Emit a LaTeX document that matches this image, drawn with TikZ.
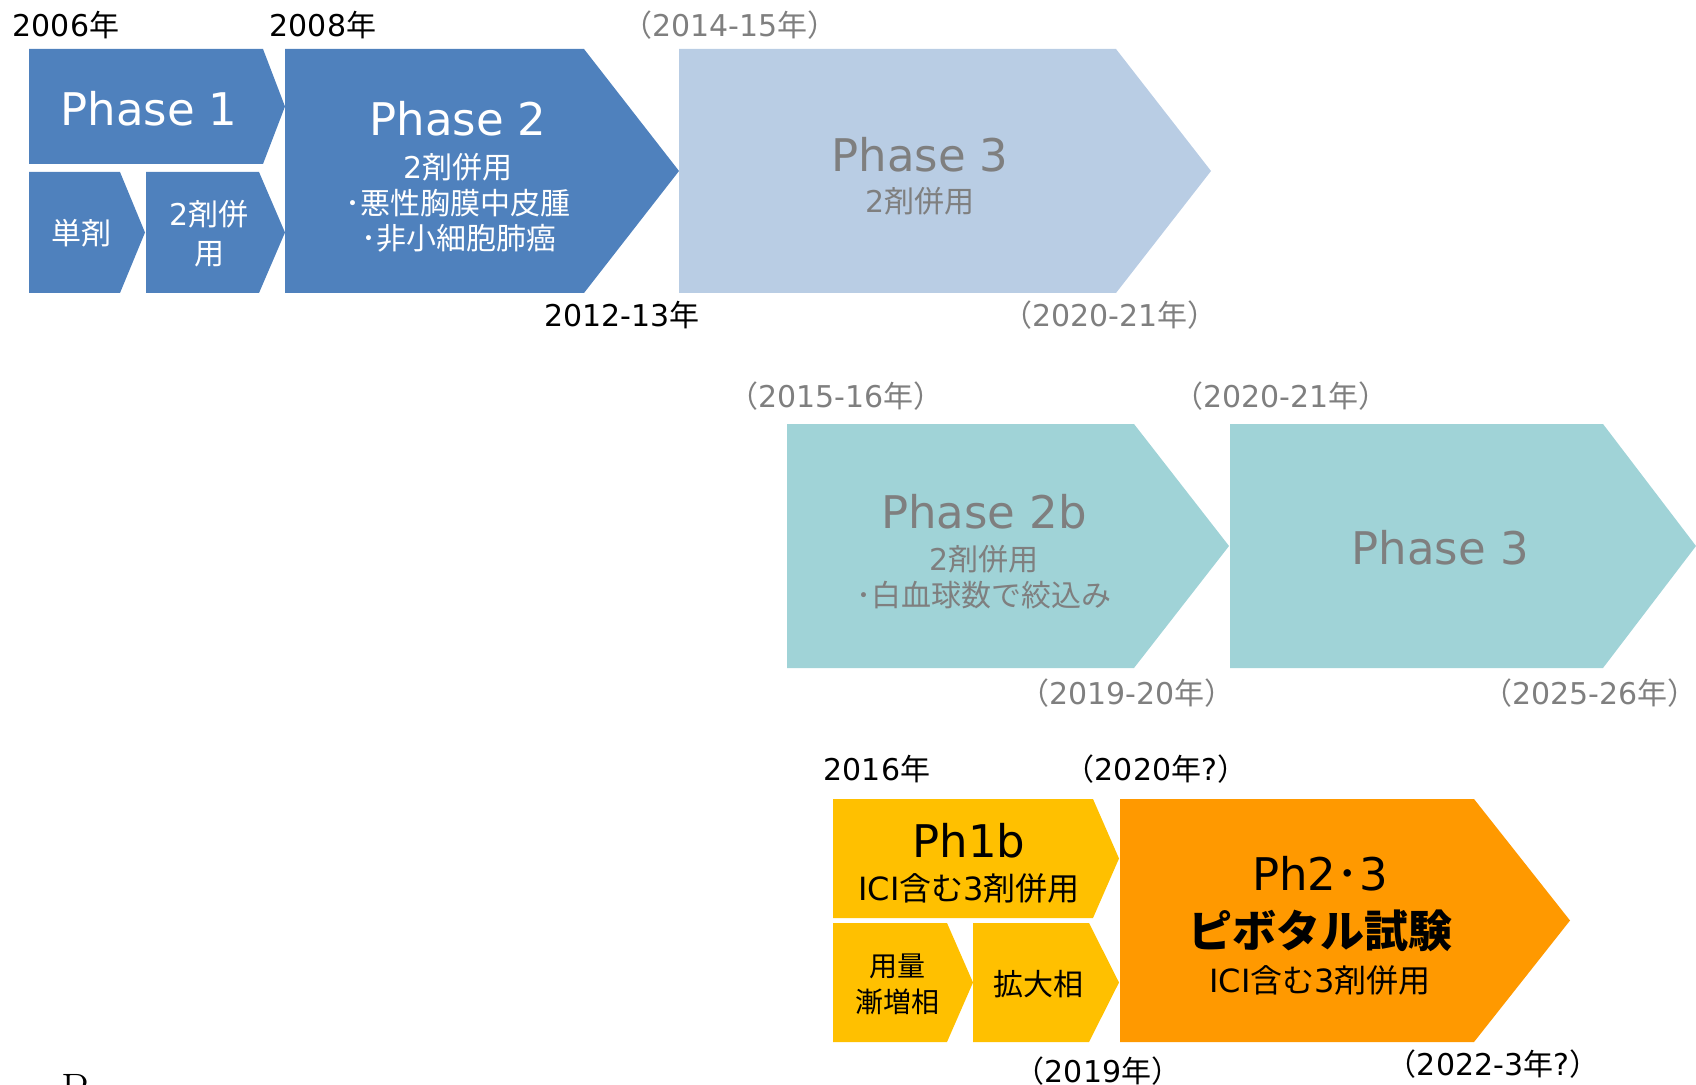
\documentclass[tikz,border=0pt]{standalone}
\usepackage{fontspec}
\setmainfont{DejaVu Sans}
\newfontfamily\jp{Noto Sans CJK JP}
\newfontfamily\lmr{Latin Modern Roman}
\newcommand\J[1]{{\jp #1}}
\newcommand\fsz[1]{\fontsize{#1}{#1}\selectfont}
\definecolor{blueA}{RGB}{79,129,189}
\definecolor{blueB}{RGB}{185,205,228}
\definecolor{tealC}{RGB}{160,211,215}
\definecolor{yelD}{RGB}{255,192,0}
\definecolor{oraE}{RGB}{255,153,0}
\definecolor{grayT}{RGB}{127,127,127}
\newcommand\chevron[6]{%
  \path[fill=#6] (#1,#2) -- (#3,#2) -- (#4,{(#2+#5)/2}) -- (#3,#5) -- (#1,#5) -- cycle;}
\tikzset{
  tx/.style={inner sep=0pt, anchor=center},
  yr/.style={tx, font=\fsz{15}, text=black},
  gyr/.style={tx, font=\fsz{15}, text=grayT},
  big/.style={tx, font=\fsz{22.5}},
  sub/.style={tx, font=\fsz{15}},
}
\begin{document}
\begin{tikzpicture}[x=0.5pt,y=-0.5pt]
\useasboundingbox (0,0) rectangle (1696,1085);
% ---- row 1 shapes
\chevron{29}{49}{263}{285}{164}{blueA}
\chevron{29}{172}{120}{145}{293}{blueA}
\chevron{146}{172}{259}{285}{293}{blueA}
\chevron{285}{49}{584}{679}{293}{blueA}
\chevron{679}{49}{1116}{1211}{293}{blueB}
% ---- row 2 shapes
\chevron{787}{424}{1134}{1229}{668}{tealC}
\chevron{1230}{424}{1603}{1696}{668}{tealC}
% ---- row 3 shapes
\chevron{833}{799}{1093}{1119}{918}{yelD}
\chevron{833}{923}{947}{973}{1042}{yelD}
\chevron{973}{923}{1089}{1119}{1042}{yelD}
\chevron{1120}{799}{1474}{1570}{1042}{oraE}
% ---- row 1 texts
\node[yr] (y2006) at (66,25) {2006\J{年}};
\node[yr] (y2008) at (323,25) {2008\J{年}};
\node[gyr] (y2014) at (730,25) {\J{（}2014-15\J{年）}};
\node[big, text=white] (p1) at (149,109) {Phase 1};
\node[sub, text=white] (tan) at (81,233) {\J{単剤}};
\node[sub, text=white] (niz1) at (209,214) {2\J{剤併}};
\node[sub, text=white] (niz2) at (209,254) {\J{用}};
\node[big, text=white] (p2) at (458,119) {Phase 2};
\node[sub, text=white] (p2a) at (458,167) {2\J{剤併用}};
\node[sub, text=white] (p2b) at (458,203) {\J{･悪性胸膜中皮腫}};
\node[sub, text=white] (p2c) at (459,238) {\J{･非小細胞肺癌}};
\node[big, text=grayT] (p3) at (920,155) {Phase 3};
\node[sub, text=grayT] (p3a) at (920,201) {2\J{剤併用}};
\node[yr] (y2012) at (622,315) {2012-13\J{年}};
\node[gyr] (y2020a) at (1110,315) {\J{（}2020-21\J{年）}};
% ---- row 2 texts
\node[gyr] (y2015) at (836,396) {\J{（}2015-16\J{年）}};
\node[gyr] (y2020b) at (1281,396) {\J{（}2020-21\J{年）}};
\node[big, text=grayT] (p2bb) at (984,512) {Phase 2b};
\node[sub, text=grayT] (p2ba) at (984,559) {2\J{剤併用}};
\node[sub, text=grayT] (p2bc) at (984,595) {\J{･白血球数で絞込み}};
\node[big, text=grayT] (p3t) at (1440,548) {Phase 3};
\node[gyr] (y2019a) at (1127,693) {\J{（}2019-20\J{年）}};
\node[gyr] (y2025) at (1590,693) {\J{（}2025-26\J{年）}};
% ---- row 3 texts
\node[yr] (y2016) at (877,769) {2016\J{年}};
\node[yr] (y2020c) at (1156,769) {\J{（}2020\J{年}?\J{）}};
\node[big] (ph1b) at (969,841) {Ph1b};
\node[tx, font=\fsz{16}] (ph1ba) at (969,888) {ICI\J{含む}3\J{剤併用}};
\node[tx, font=\fsz{14}] (yo1) at (897,966) {\J{用量}};
\node[tx, font=\fsz{14}] (yo2) at (897,1002) {\J{漸増相}};
\node[tx, font=\fsz{15}] (kak) at (1038,984) {\J{拡大相}};
\node[big] (ph23) at (1320,874) {Ph2\J{･}3};
\node[tx, font=\fsz{22}] (piv) at (1320,931) {\jp\bfseries ピボタル試験};
\node[tx, font=\fsz{16}] (ph23a) at (1320,980) {ICI\J{含む}3\J{剤併用}};
\node[yr] (y2019b) at (1098,1071) {\J{（}2019\J{年）}};
\node[yr] (y2022) at (1493,1064) {\J{（}2022-3\J{年}?\J{）}};
% ---- cut-off letter at the bottom edge
\node[inner sep=0pt, anchor=base west, font=\lmr\fsz{22}] (cutP) at (61,1104) {P};
\end{tikzpicture}
\end{document}
